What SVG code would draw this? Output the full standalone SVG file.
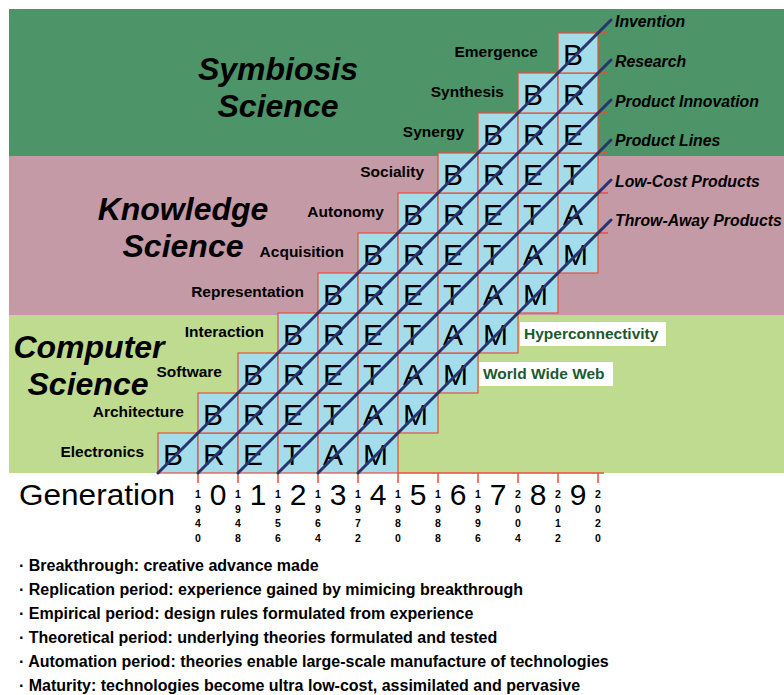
<svg xmlns="http://www.w3.org/2000/svg" width="784" height="695" viewBox="0 0 784 695">
<style>
.cell{fill:#a3dcea;stroke:#ef4b3c;stroke-width:1.2}
.ltr{font-family:"Liberation Sans",Arial,sans-serif;font-size:30px;fill:#000}
.rl{font-family:"Liberation Sans",Arial,sans-serif;font-weight:bold;font-size:15.5px;text-anchor:end;fill:#000}
.il{font-family:"Liberation Sans",Arial,sans-serif;font-weight:bold;font-style:italic;font-size:15.8px;fill:#000}
.ttl{font-family:"Liberation Sans",Arial,sans-serif;font-weight:bold;font-style:italic;font-size:32px;text-anchor:middle;fill:#000}
.dl{stroke:#27346f;stroke-width:3;stroke-linecap:round;fill:none}
.tick{stroke:#ef4b3c;stroke-width:1.5;fill:none}
.yr{font-family:"Liberation Sans",Arial,sans-serif;font-weight:bold;font-size:10.5px;text-anchor:middle;fill:#000}
.gd{font-family:"Liberation Sans",Arial,sans-serif;font-size:30px;text-anchor:middle;fill:#000}
.bl{font-family:"Liberation Sans",Arial,sans-serif;font-weight:bold;font-size:16px;fill:#000}
.hbox{fill:#fff}
.ht{font-family:"Liberation Sans",Arial,sans-serif;font-weight:bold;font-size:15.5px;fill:#1b5a30}
</style>
<rect x="0" y="0" width="784" height="695" fill="#fff"/>
<g id="bands">
<rect x="9" y="9" width="775" height="147" fill="#4d9468"/>
<rect x="9" y="156" width="775" height="159" fill="#c59aa7"/>
<rect x="9" y="315" width="775" height="158" fill="#bedb90"/>
</g>
<g id="titles">
<text class="ttl" x="278" y="80">Symbiosis</text>
<text class="ttl" x="278" y="117">Science</text>
<text class="ttl" x="183" y="220">Knowledge</text>
<text class="ttl" x="183" y="257">Science</text>
<text class="ttl" x="89" y="358">Computer</text>
<text class="ttl" x="88" y="395">Science</text>
</g>
<g id="row-electronics">
<rect class="cell" x="158" y="433" width="40" height="40"/><rect class="cell" x="198" y="433" width="40" height="40"/><rect class="cell" x="238" y="433" width="40" height="40"/><rect class="cell" x="278" y="433" width="40" height="40"/><rect class="cell" x="318" y="433" width="40" height="40"/><rect class="cell" x="358" y="433" width="40" height="40"/>
<text class="ltr" x="163" y="465">B</text><text class="ltr" x="203" y="465">R</text><text class="ltr" x="243" y="465">E</text><text class="ltr" x="283" y="465">T</text><text class="ltr" x="323" y="465">A</text><text class="ltr" x="363" y="465">M</text>
<text class="rl" x="144" y="457">Electronics</text>
</g>
<g id="row-architecture">
<rect class="cell" x="198" y="393" width="40" height="40"/><rect class="cell" x="238" y="393" width="40" height="40"/><rect class="cell" x="278" y="393" width="40" height="40"/><rect class="cell" x="318" y="393" width="40" height="40"/><rect class="cell" x="358" y="393" width="40" height="40"/><rect class="cell" x="398" y="393" width="40" height="40"/>
<text class="ltr" x="203" y="425">B</text><text class="ltr" x="243" y="425">R</text><text class="ltr" x="283" y="425">E</text><text class="ltr" x="323" y="425">T</text><text class="ltr" x="363" y="425">A</text><text class="ltr" x="403" y="425">M</text>
<text class="rl" x="184" y="417">Architecture</text>
</g>
<g id="row-software">
<rect class="cell" x="238" y="353" width="40" height="40"/><rect class="cell" x="278" y="353" width="40" height="40"/><rect class="cell" x="318" y="353" width="40" height="40"/><rect class="cell" x="358" y="353" width="40" height="40"/><rect class="cell" x="398" y="353" width="40" height="40"/><rect class="cell" x="438" y="353" width="40" height="40"/>
<text class="ltr" x="243" y="385">B</text><text class="ltr" x="283" y="385">R</text><text class="ltr" x="323" y="385">E</text><text class="ltr" x="363" y="385">T</text><text class="ltr" x="403" y="385">A</text><text class="ltr" x="443" y="385">M</text>
<text class="rl" x="222" y="377">Software</text>
</g>
<g id="row-interaction">
<rect class="cell" x="278" y="313" width="40" height="40"/><rect class="cell" x="318" y="313" width="40" height="40"/><rect class="cell" x="358" y="313" width="40" height="40"/><rect class="cell" x="398" y="313" width="40" height="40"/><rect class="cell" x="438" y="313" width="40" height="40"/><rect class="cell" x="478" y="313" width="40" height="40"/>
<text class="ltr" x="283" y="345">B</text><text class="ltr" x="323" y="345">R</text><text class="ltr" x="363" y="345">E</text><text class="ltr" x="403" y="345">T</text><text class="ltr" x="443" y="345">A</text><text class="ltr" x="483" y="345">M</text>
<text class="rl" x="264" y="337">Interaction</text>
</g>
<g id="row-representation">
<rect class="cell" x="318" y="273" width="40" height="40"/><rect class="cell" x="358" y="273" width="40" height="40"/><rect class="cell" x="398" y="273" width="40" height="40"/><rect class="cell" x="438" y="273" width="40" height="40"/><rect class="cell" x="478" y="273" width="40" height="40"/><rect class="cell" x="518" y="273" width="40" height="40"/>
<text class="ltr" x="323" y="305">B</text><text class="ltr" x="363" y="305">R</text><text class="ltr" x="403" y="305">E</text><text class="ltr" x="443" y="305">T</text><text class="ltr" x="483" y="305">A</text><text class="ltr" x="523" y="305">M</text>
<text class="rl" x="304" y="297">Representation</text>
</g>
<g id="row-acquisition">
<rect class="cell" x="358" y="233" width="40" height="40"/><rect class="cell" x="398" y="233" width="40" height="40"/><rect class="cell" x="438" y="233" width="40" height="40"/><rect class="cell" x="478" y="233" width="40" height="40"/><rect class="cell" x="518" y="233" width="40" height="40"/><rect class="cell" x="558" y="233" width="40" height="40"/>
<text class="ltr" x="363" y="265">B</text><text class="ltr" x="403" y="265">R</text><text class="ltr" x="443" y="265">E</text><text class="ltr" x="483" y="265">T</text><text class="ltr" x="523" y="265">A</text><text class="ltr" x="563" y="265">M</text>
<text class="rl" x="344" y="257">Acquisition</text>
</g>
<g id="row-autonomy">
<rect class="cell" x="398" y="193" width="40" height="40"/><rect class="cell" x="438" y="193" width="40" height="40"/><rect class="cell" x="478" y="193" width="40" height="40"/><rect class="cell" x="518" y="193" width="40" height="40"/><rect class="cell" x="558" y="193" width="40" height="40"/>
<text class="ltr" x="403" y="225">B</text><text class="ltr" x="443" y="225">R</text><text class="ltr" x="483" y="225">E</text><text class="ltr" x="523" y="225">T</text><text class="ltr" x="563" y="225">A</text>
<text class="rl" x="384" y="217">Autonomy</text>
</g>
<g id="row-sociality">
<rect class="cell" x="438" y="153" width="40" height="40"/><rect class="cell" x="478" y="153" width="40" height="40"/><rect class="cell" x="518" y="153" width="40" height="40"/><rect class="cell" x="558" y="153" width="40" height="40"/>
<text class="ltr" x="443" y="185">B</text><text class="ltr" x="483" y="185">R</text><text class="ltr" x="523" y="185">E</text><text class="ltr" x="563" y="185">T</text>
<text class="rl" x="424" y="177">Sociality</text>
</g>
<g id="row-synergy">
<rect class="cell" x="478" y="113" width="40" height="40"/><rect class="cell" x="518" y="113" width="40" height="40"/><rect class="cell" x="558" y="113" width="40" height="40"/>
<text class="ltr" x="483" y="145">B</text><text class="ltr" x="523" y="145">R</text><text class="ltr" x="563" y="145">E</text>
<text class="rl" x="464" y="137">Synergy</text>
</g>
<g id="row-synthesis">
<rect class="cell" x="518" y="73" width="40" height="40"/><rect class="cell" x="558" y="73" width="40" height="40"/>
<text class="ltr" x="523" y="105">B</text><text class="ltr" x="563" y="105">R</text>
<text class="rl" x="504" y="97">Synthesis</text>
</g>
<g id="row-emergence">
<rect class="cell" x="558" y="33" width="40" height="40"/>
<text class="ltr" x="563" y="65">B</text>
<text class="rl" x="538" y="57">Emergence</text>
</g>
<g id="axes">
<path class="tick" d="M398 473H604M198 473V483M238 473V483M278 473V483M318 473V483M358 473V483M398 473V483M438 473V483M478 473V483M518 473V483M558 473V483M598 473V483"/>
<path class="tick" d="M598 33H608M598 73H608M598 113H608M598 153H608M598 193H608M598 233H608"/>
</g>
<g id="connectors">
<line class="dl" x1="158" y1="473" x2="611" y2="20"/>
<line class="dl" x1="198" y1="473" x2="611" y2="60"/>
<line class="dl" x1="238" y1="473" x2="611" y2="100"/>
<line class="dl" x1="278" y1="473" x2="611" y2="140"/>
<line class="dl" x1="318" y1="473" x2="611" y2="180"/>
<line class="dl" x1="358" y1="473" x2="611" y2="220"/>
</g>
<g id="line-labels">
<text class="il" x="615" y="26.5">Invention</text>
<text class="il" x="615" y="66.5">Research</text>
<text class="il" x="615" y="106.5">Product Innovation</text>
<text class="il" x="615" y="146">Product Lines</text>
<text class="il" x="615" y="186.5">Low-Cost Products</text>
<text class="il" x="615" y="225.5">Throw-Away Products</text>
</g>
<g id="hyperconnectivity">
<rect class="hbox" x="520" y="322" width="146" height="24"/>
<text class="ht" x="524" y="339">Hyperconnectivity</text>
</g>
<g id="www">
<rect class="hbox" x="479" y="362" width="134" height="24"/>
<text class="ht" x="483" y="379">World Wide Web</text>
</g>
<g id="generation">
<text x="19" y="505" font-family="Liberation Sans, Arial, sans-serif" font-size="30" textLength="156" lengthAdjust="spacingAndGlyphs">Generation</text>
<text class="gd" x="218" y="505">0</text><text class="gd" x="258" y="505">1</text><text class="gd" x="298" y="505">2</text><text class="gd" x="338" y="505">3</text><text class="gd" x="378" y="505">4</text><text class="gd" x="418" y="505">5</text><text class="gd" x="458" y="505">6</text><text class="gd" x="498" y="505">7</text><text class="gd" x="538" y="505">8</text><text class="gd" x="578" y="505">9</text>
<text class="yr"><tspan x="198" y="498">1</tspan><tspan x="198" y="512.5">9</tspan><tspan x="198" y="527">4</tspan><tspan x="198" y="541.5">0</tspan></text>
<text class="yr"><tspan x="238" y="498">1</tspan><tspan x="238" y="512.5">9</tspan><tspan x="238" y="527">4</tspan><tspan x="238" y="541.5">8</tspan></text>
<text class="yr"><tspan x="278" y="498">1</tspan><tspan x="278" y="512.5">9</tspan><tspan x="278" y="527">5</tspan><tspan x="278" y="541.5">6</tspan></text>
<text class="yr"><tspan x="318" y="498">1</tspan><tspan x="318" y="512.5">9</tspan><tspan x="318" y="527">6</tspan><tspan x="318" y="541.5">4</tspan></text>
<text class="yr"><tspan x="358" y="498">1</tspan><tspan x="358" y="512.5">9</tspan><tspan x="358" y="527">7</tspan><tspan x="358" y="541.5">2</tspan></text>
<text class="yr"><tspan x="398" y="498">1</tspan><tspan x="398" y="512.5">9</tspan><tspan x="398" y="527">8</tspan><tspan x="398" y="541.5">0</tspan></text>
<text class="yr"><tspan x="438" y="498">1</tspan><tspan x="438" y="512.5">9</tspan><tspan x="438" y="527">8</tspan><tspan x="438" y="541.5">8</tspan></text>
<text class="yr"><tspan x="478" y="498">1</tspan><tspan x="478" y="512.5">9</tspan><tspan x="478" y="527">9</tspan><tspan x="478" y="541.5">6</tspan></text>
<text class="yr"><tspan x="518" y="498">2</tspan><tspan x="518" y="512.5">0</tspan><tspan x="518" y="527">0</tspan><tspan x="518" y="541.5">4</tspan></text>
<text class="yr"><tspan x="558" y="498">2</tspan><tspan x="558" y="512.5">0</tspan><tspan x="558" y="527">1</tspan><tspan x="558" y="541.5">2</tspan></text>
<text class="yr"><tspan x="598" y="498">2</tspan><tspan x="598" y="512.5">0</tspan><tspan x="598" y="527">2</tspan><tspan x="598" y="541.5">0</tspan></text>
</g>
<g id="legend">
<text class="bl" x="19" y="571">· Breakthrough: creative advance made</text>
<text class="bl" x="19" y="595">· Replication period: experience gained by mimicing breakthrough</text>
<text class="bl" x="19" y="619">· Empirical period: design rules formulated from experience</text>
<text class="bl" x="19" y="643">· Theoretical period: underlying theories formulated and tested</text>
<text class="bl" x="19" y="667">· Automation period: theories enable large-scale manufacture of technologies</text>
<text class="bl" x="19" y="691">· Maturity: technologies become ultra low-cost, assimilated and pervasive</text>
</g>
</svg>
